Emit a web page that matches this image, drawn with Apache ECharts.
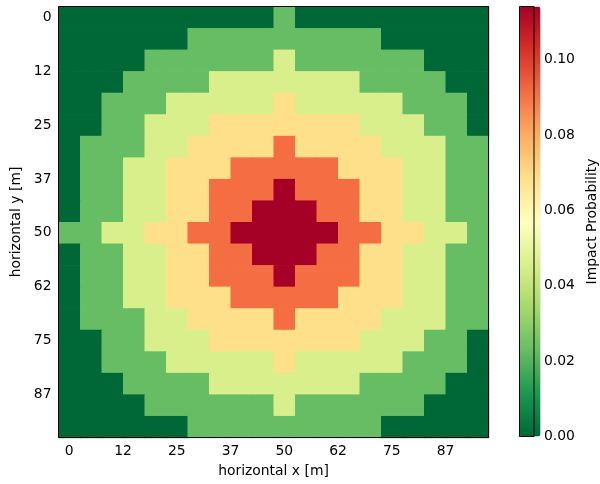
<!DOCTYPE html>
<html>
<head>
<meta charset="utf-8">
<script src="https://cdn.jsdelivr.net/npm/echarts@6/dist/echarts.min.js"></script>
<style>
html,body{margin:0;padding:0;background:#fff;}
#chart{width:600px;height:484px;}
</style>
</head>
<body>
<div id="chart"></div>
<script>
// cell centres in metres (columns = horizontal x, rows = horizontal y)
const xMeters = [0,5,10,15,20,25,30,35,40,45,50,55,60,65,70,75,80,85,90,95];
const yMeters = [0,5,10,15,20,25,30,35,40,45,50,55,60,65,70,75,80,85,90,95];
// tick positions and labels
const tickValues = [0,12.5,25,37.5,50,62.5,75,87.5];
const tickLabels = ['0','12','25','37','50','62','75','87'];
// colorbar ticks
const cbarTickValues = [0,0.02,0.04,0.06,0.08,0.10];
// impact probability, one row per y (top to bottom)
const probRows = [
 [0,0,0,0,0,0,0,0,0,0,.0228,0,0,0,0,0,0,0,0,0],
 [0,0,0,0,0,0,.0228,.0228,.0228,.0228,.0228,.0228,.0228,.0228,.0228,0,0,0,0,0],
 [0,0,0,0,.0228,.0228,.0228,.0228,.0228,.0228,.0456,.0228,.0228,.0228,.0228,.0228,.0228,0,0,0],
 [0,0,0,.0228,.0228,.0228,.0228,.0456,.0456,.0456,.0456,.0456,.0456,.0456,.0228,.0228,.0228,.0228,0,0],
 [0,0,.0228,.0228,.0228,.0456,.0456,.0456,.0456,.0456,.0684,.0456,.0456,.0456,.0456,.0456,.0228,.0228,.0228,0],
 [0,0,.0228,.0228,.0456,.0456,.0456,.0684,.0684,.0684,.0684,.0684,.0684,.0684,.0456,.0456,.0456,.0228,.0228,0],
 [0,.0228,.0228,.0228,.0456,.0456,.0684,.0684,.0684,.0684,.0912,.0684,.0684,.0684,.0684,.0456,.0456,.0456,.0228,.0228],
 [0,.0228,.0228,.0456,.0456,.0684,.0684,.0684,.0912,.0912,.0912,.0912,.0912,.0684,.0684,.0684,.0456,.0456,.0228,.0228],
 [0,.0228,.0228,.0456,.0456,.0684,.0684,.0912,.0912,.0912,.1141,.0912,.0912,.0912,.0684,.0684,.0456,.0456,.0228,.0228],
 [0,.0228,.0228,.0456,.0456,.0684,.0684,.0912,.0912,.1141,.1141,.1141,.0912,.0912,.0684,.0684,.0456,.0456,.0228,.0228],
 [.0228,.0228,.0456,.0456,.0684,.0684,.0912,.0912,.1141,.1141,.1141,.1141,.1141,.0912,.0912,.0684,.0684,.0456,.0456,.0228],
 [0,.0228,.0228,.0456,.0456,.0684,.0684,.0912,.0912,.1141,.1141,.1141,.0912,.0912,.0684,.0684,.0456,.0456,.0228,.0228],
 [0,.0228,.0228,.0456,.0456,.0684,.0684,.0912,.0912,.0912,.1141,.0912,.0912,.0912,.0684,.0684,.0456,.0456,.0228,.0228],
 [0,.0228,.0228,.0456,.0456,.0684,.0684,.0684,.0912,.0912,.0912,.0912,.0912,.0684,.0684,.0684,.0456,.0456,.0228,.0228],
 [0,.0228,.0228,.0228,.0456,.0456,.0684,.0684,.0684,.0684,.0912,.0684,.0684,.0684,.0684,.0456,.0456,.0456,.0228,.0228],
 [0,0,.0228,.0228,.0456,.0456,.0456,.0684,.0684,.0684,.0684,.0684,.0684,.0684,.0456,.0456,.0456,.0228,.0228,0],
 [0,0,.0228,.0228,.0228,.0456,.0456,.0456,.0456,.0456,.0684,.0456,.0456,.0456,.0456,.0456,.0228,.0228,.0228,0],
 [0,0,0,.0228,.0228,.0228,.0228,.0456,.0456,.0456,.0456,.0456,.0456,.0456,.0228,.0228,.0228,.0228,0,0],
 [0,0,0,0,.0228,.0228,.0228,.0228,.0228,.0228,.0456,.0228,.0228,.0228,.0228,.0228,.0228,0,0,0],
 [0,0,0,0,0,0,.0228,.0228,.0228,.0228,.0228,.0228,.0228,.0228,.0228,0,0,0,0,0]
];
const probMin = 0;
const probMax = 0.1141;

const RdYlGn_r = ['#006837','#1a9850','#66bd63','#a6d96a','#d9ef8b','#ffffbf','#fee08b','#fdae61','#f46d43','#d73027','#a50026'];
const FONT = 'DejaVu Sans';
const FS = 13.9;
const half = 2.5;

const data = [];
probRows.forEach((row, r) => row.forEach((v, c) => data.push([xMeters[c], yMeters[r], v])));

const chart = echarts.init(document.getElementById('chart'), null, {renderer: 'canvas'});
const txt = {color: '#000', fontFamily: FONT, fontSize: FS};
const fmt = v => { const i = tickValues.indexOf(v); return i >= 0 ? tickLabels[i] : ''; };

chart.setOption({
  animation: false,
  backgroundColor: '#fff',
  grid: [
    {left: 58.5, top: 6.5, width: 430, height: 431, show: true, borderColor: '#000', borderWidth: 1, backgroundColor: 'transparent', z: 10},
    {left: 519.5, top: 6.5, width: 21, height: 430, show: true, borderColor: '#000', borderWidth: 1, backgroundColor: 'transparent', z: 10}
  ],
  xAxis: [
    {type: 'value', gridIndex: 0, min: xMeters[0] - half, max: xMeters[xMeters.length - 1] + half,
     name: 'horizontal x [m]', nameLocation: 'middle', nameGap: 27, nameTextStyle: txt,
     axisLine: {show: false}, splitLine: {show: false},
     axisTick: {show: true, length: 3.5, customValues: tickValues, lineStyle: {color: '#000', width: 1}},
     axisLabel: {customValues: tickValues, formatter: fmt, margin: 7, ...txt}},
    {type: 'value', gridIndex: 1, show: false, min: 0, max: 1}
  ],
  yAxis: [
    {type: 'value', gridIndex: 0, inverse: true, min: yMeters[0] - half, max: yMeters[yMeters.length - 1] + half,
     name: 'horizontal y [m]', nameLocation: 'middle', nameGap: 35, nameTextStyle: txt,
     axisLine: {show: false}, splitLine: {show: false},
     axisTick: {show: true, length: 3.5, customValues: tickValues, lineStyle: {color: '#000', width: 1}},
     axisLabel: {customValues: tickValues, formatter: fmt, margin: 7, ...txt}},
    {type: 'value', gridIndex: 1, position: 'right', min: probMin, max: probMax,
     name: 'Impact Probability', nameLocation: 'middle', nameGap: 51, nameTextStyle: txt,
     axisLine: {show: false}, splitLine: {show: false},
     axisTick: {show: true, length: 3.5, customValues: cbarTickValues, lineStyle: {color: '#000', width: 1}},
     axisLabel: {customValues: cbarTickValues, formatter: v => v.toFixed(2), margin: 10, ...txt}}
  ],
  visualMap: {
    type: 'continuous', min: probMin, max: probMax, dimension: 2, seriesIndex: 0,
    calculable: false, inRange: {color: RdYlGn_r},
    orient: 'vertical', left: 519.5, top: 6.5, itemWidth: 21, itemHeight: 430, padding: 0,
    text: null, showLabel: false
  },
  series: [{
    type: 'custom', xAxisIndex: 0, yAxisIndex: 0, data: data,
    renderItem: (params, api) => {
      const x = api.value(0), y = api.value(1);
      const p1 = api.coord([x - half, y - half]);
      const p2 = api.coord([x + half, y + half]);
      const col = api.visual('color');
      const x0 = Math.min(p1[0], p2[0]), y0 = Math.min(p1[1], p2[1]);
      const w = Math.abs(p2[0] - p1[0]), h = Math.abs(p2[1] - p1[1]);
      return {type: 'rect',
        shape: {x: x0, y: y0, width: w + 0.7, height: h + 0.7},
        style: {fill: col}};
    }
  }]
});
</script>
</body>
</html>
